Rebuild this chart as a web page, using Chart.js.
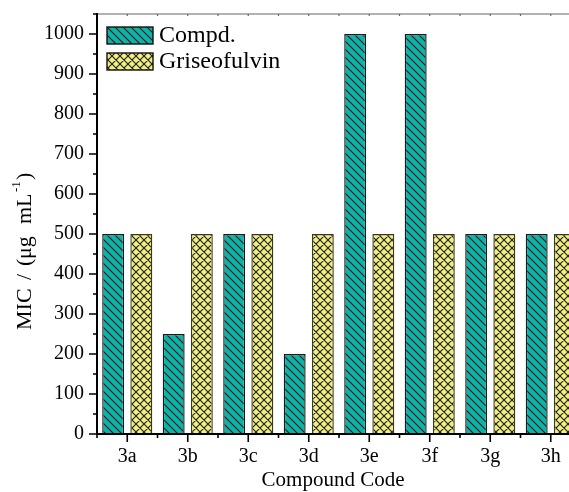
<!DOCTYPE html>
<html>
<head>
<meta charset="utf-8">
<script src="https://cdn.jsdelivr.net/npm/chart.js@4"></script>
<style>
  html, body { margin: 0; padding: 0; background: #fff; overflow: hidden; }
  #wrap { width: 581px; height: 492px; }
</style>
</head>
<body>
<div id="wrap"><canvas id="c" width="581" height="492"></canvas></div>
<script>
// Données
const categories = ["3a", "3b", "3c", "3d", "3e", "3f", "3g", "3h"];
const compd = [500, 250, 500, 200, 1000, 1000, 500, 500];
const griseofulvin = [500, 500, 500, 500, 500, 500, 500, 500];
const yTicks = [0, 100, 200, 300, 400, 500, 600, 700, 800, 900, 1000];

const SERIF = "'Liberation Serif', 'DejaVu Serif', serif";
const TEAL = "#0db3a8";
const JAUNE = "#f1ef80";

// Motifs hachurés (tuile 8x8)
function motif(fond, croise) {
  const t = document.createElement("canvas");
  t.width = 8; t.height = 8;
  const g = t.getContext("2d");
  g.fillStyle = fond;
  g.fillRect(0, 0, 8, 8);
  g.strokeStyle = "#1b1b1b";
  g.lineWidth = 1.1;
  g.beginPath();
  g.moveTo(-1, -1); g.lineTo(9, 9);
  g.moveTo(-1, 7); g.lineTo(1, 9);
  g.moveTo(7, -1); g.lineTo(9, 1);
  if (croise) {
    g.moveTo(-1, 9); g.lineTo(9, -1);
    g.moveTo(-1, 1); g.lineTo(1, -1);
    g.moveTo(7, 9); g.lineTo(9, 7);
  }
  g.stroke();
  return g.createPattern(t, "repeat");
}
const motifCompd = motif(TEAL, false);
const motifGriseo = motif(JAUNE, true);

// Axes, graduations, légende et titres dessinés à la main
const habillage = {
  id: "habillage",
  afterDraw(chart) {
    const ctx = chart.ctx;
    const a = chart.chartArea;
    const x = chart.scales.x, y = chart.scales.y;
    ctx.save();
    ctx.lineCap = "butt";

    // cadre haut (gris fin)
    ctx.strokeStyle = "#666";
    ctx.lineWidth = 1.2;
    ctx.beginPath();
    ctx.moveTo(a.left, a.top); ctx.lineTo(a.right, a.top);
    ctx.stroke();
    const pas = (x.getPixelForValue(1) - x.getPixelForValue(0)) / 2;
    ctx.beginPath();
    for (let i = 0; i < categories.length * 2; i++) {
      const px = a.left + pas * (i + 1);
      ctx.moveTo(px, a.top); ctx.lineTo(px, a.top + 2);
    }
    ctx.stroke();

    // axe gauche et axe bas
    ctx.strokeStyle = "#000";
    ctx.lineWidth = 2;
    ctx.beginPath();
    ctx.moveTo(a.left, a.top - 1); ctx.lineTo(a.left, a.bottom + 1);
    ctx.moveTo(a.left - 1, a.bottom); ctx.lineTo(a.right, a.bottom);
    ctx.stroke();

    // graduations Y
    ctx.lineWidth = 1.6;
    ctx.beginPath();
    for (let v = 0; v <= 1050; v += 50) {
      const py = Math.round(y.getPixelForValue(v));
      const long = v % 100 === 0 ? 8 : 4;
      ctx.moveTo(a.left, py); ctx.lineTo(a.left - long, py);
    }
    // graduations X
    categories.forEach((c, i) => {
      const px = x.getPixelForValue(i);
      ctx.moveTo(px, a.bottom); ctx.lineTo(px, a.bottom + 8);
      ctx.moveTo(px - pas, a.bottom); ctx.lineTo(px - pas, a.bottom + 4);
    });
    ctx.stroke();

    // légende
    const series = [
      { nom: "Compd.", fill: motifCompd, y: 27 },
      { nom: "Griseofulvin", fill: motifGriseo, y: 53 },
    ];
    ctx.font = "24px " + SERIF;
    ctx.textBaseline = "middle";
    ctx.textAlign = "left";
    series.forEach((s) => {
      ctx.fillStyle = s.fill;
      ctx.fillRect(107, s.y, 46, 17);
      ctx.strokeStyle = "#111";
      ctx.lineWidth = 1.4;
      ctx.strokeRect(107, s.y, 46, 17);
      ctx.fillStyle = "#000";
      ctx.fillText(s.nom, 159, s.y + 9);
    });

    // titre Y, morceau par morceau (début de chaque morceau, en y page)
    ctx.translate(25, 0);
    ctx.rotate(-Math.PI / 2);
    ctx.textBaseline = "middle";
    const morceaux = [
      ["MIC", 330, 22, 0],
      ["/", 280, 22, 0],
      ["(", 266, 22, 0],
      ["\u03bcg", 259, 22, 0],
      ["mL", 224, 22, 0],
      ["-1", 192, 13, -8],
      [")", 180, 22, 0],
    ];
    morceaux.forEach(([t, py, taille, dy]) => {
      ctx.font = taille + "px " + SERIF;
      ctx.fillText(t, -py, dy);
    });
    ctx.restore();

    // titre X
    ctx.save();
    ctx.font = "21px " + SERIF;
    ctx.fillStyle = "#000";
    ctx.textAlign = "center";
    ctx.textBaseline = "middle";
    ctx.fillText("Compound Code", 333, 480);
    ctx.restore();
  },
};

new Chart(document.getElementById("c"), {
  type: "bar",
  data: {
    labels: categories,
    datasets: [
      { label: "Compd.", data: compd, backgroundColor: motifCompd, borderColor: "#1a1a1a", borderWidth: 1.4 },
      { label: "Griseofulvin", data: griseofulvin, backgroundColor: motifGriseo, borderColor: "#3a3a1a", borderWidth: 1.4 },
    ],
  },
  options: {
    responsive: false,
    animation: false,
    layout: { padding: { top: 14, left: 0, right: 0, bottom: 0 } },
    datasets: { bar: { categoryPercentage: 0.93, barPercentage: 0.78 } },
    plugins: { legend: { display: false }, tooltip: { enabled: false } },
    scales: {
      x: {
        offset: true,
        grid: { display: false, drawTicks: false },
        border: { display: false },
        ticks: { color: "#000", font: { family: SERIF, size: 20 }, padding: 11 },
        afterFit: (s) => { s.height = 58; s.paddingLeft = 0; s.paddingRight = 0; },
      },
      y: {
        min: 0,
        max: 1050,
        grid: { display: false, drawTicks: false },
        border: { display: false },
        afterBuildTicks: (s) => { s.ticks = yTicks.map((v) => ({ value: v })); },
        ticks: { color: "#000", font: { family: SERIF, size: 20 }, padding: 13, callback: (v) => String(v) },
        afterFit: (s) => { s.width = 97; s.paddingTop = 0; s.paddingBottom = 0; },
      },
    },
  },
  plugins: [habillage],
});
</script>
</body>
</html>
